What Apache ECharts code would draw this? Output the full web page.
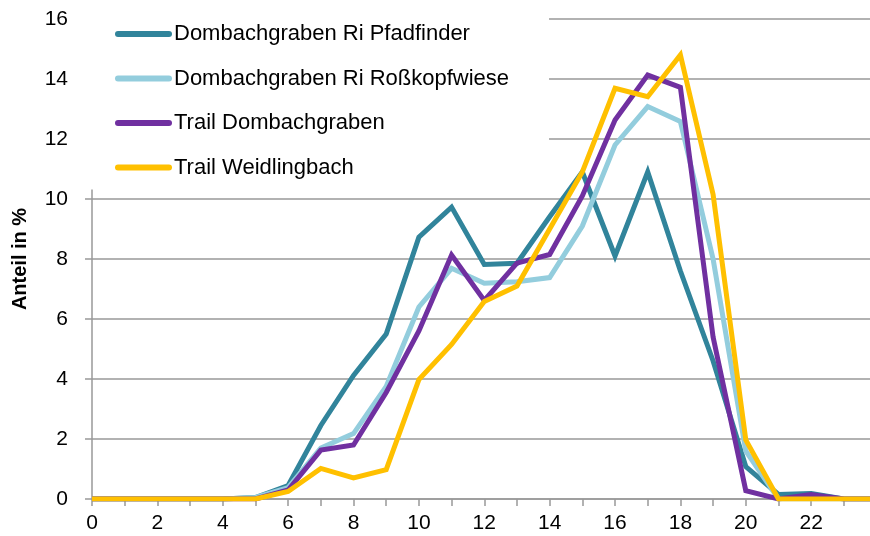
<!DOCTYPE html>
<html>
<head>
<meta charset="utf-8">
<script src="https://cdn.jsdelivr.net/npm/echarts@6/dist/echarts.min.js"></script>
<style>html,body{margin:0;padding:0;background:#fff}#c{width:870px;height:536px}</style>
</head>
<body>
<div id="c"></div>
<script>
var hours = [0,1,2,3,4,5,6,7,8,9,10,11,12,13,14,15,16,17,18,19,20,21,22,23,24];
var seriesNames = ['Dombachgraben Ri Pfadfinder','Dombachgraben Ri Roßkopfwiese','Trail Dombachgraben','Trail Weidlingbach'];
var pfadfinder   = [0,0,0,0,0,0.05,0.45,2.45,4.12,5.5,8.73,9.73,7.82,7.86,9.41,10.9,8.1,10.9,7.6,4.6,1.08,0.15,0.18,0,0];
var rosskopf     = [0,0,0,0,0,0.05,0.38,1.7,2.18,3.75,6.4,7.69,7.19,7.24,7.38,9.1,11.8,13.08,12.58,8.0,1.6,0,0,0,0];
var trailDomb    = [0,0,0,0,0,0,0.3,1.63,1.8,3.55,5.6,8.13,6.62,7.86,8.15,10.1,12.63,14.13,13.72,5.4,0.28,0,0.15,0,0];
var trailWeid    = [0,0,0,0,0,0,0.25,1.02,0.7,0.98,3.98,5.15,6.58,7.1,9.0,10.9,13.69,13.41,14.8,10.15,1.97,0,0,0,0];
var yTicks = [0,2,4,6,8,10,12,14,16];
var colors = ['#31849B','#93CDDD','#7030A0','#FFC000'];
var allData = [pfadfinder, rosskopf, trailDomb, trailWeid];

function pairs(arr){ return arr.map(function(v,i){ return [hours[i], v]; }); }

var chart = echarts.init(document.getElementById('c'), null, {renderer:'canvas'});
var font = '"Liberation Sans", Arial, sans-serif';
var option = {
  animation: false,
  backgroundColor: '#fff',
  grid: {left: 92, right: 0, top: 19, bottom: 37, containLabel: false},
  legend: {
    orient: 'vertical',
    left: 84, top: 0,
    padding: [23, 40, 11, 31],
    backgroundColor: '#fff',
    itemWidth: 57, itemHeight: 6,
    itemGap: 22.5,
    icon: 'path://M3,0 H54 A3,3 0 0 1 54,6 H3 A3,3 0 0 1 3,0 Z',
    textStyle: {fontFamily: font, fontSize: 22, color: '#000', lineHeight: 20, padding: [0,0,0,-3]},
    data: seriesNames
  },
  xAxis: {
    type: 'value', min: 0, max: 23.8, interval: 1,
    axisLine: {show: true, lineStyle: {color: '#999', width: 1.5}},
    axisTick: {show: true, length: 7, lineStyle: {color: '#999', width: 1.5}},
    axisLabel: {
      margin: 14, fontFamily: font, fontSize: 21, color: '#000',
      showMaxLabel: false,
      formatter: function(v){ return (Math.abs(v - Math.round(v)) < 1e-6 && Math.round(v) % 2 === 0) ? String(Math.round(v)) : ''; }
    },
    splitLine: {show: false}
  },
  yAxis: {
    type: 'value', min: yTicks[0], max: yTicks[yTicks.length-1], interval: 2,
    name: 'Anteil in %', nameLocation: 'middle', nameGap: 62,
    nameTextStyle: {fontFamily: font, fontSize: 20, fontWeight: 'bold', color: '#000'},
    axisLine: {show: true, lineStyle: {color: '#999', width: 1.5}},
    axisTick: {show: true, length: 7, lineStyle: {color: '#999', width: 1.5}},
    axisLabel: {margin: 24, fontFamily: font, fontSize: 21, color: '#000'},
    splitLine: {show: true, lineStyle: {color: '#999', width: 1.5}}
  },
  series: seriesNames.map(function(n, i){
    return {
      name: n, type: 'line', data: pairs(allData[i]),
      showSymbol: false, symbol: 'none', clip: true,
      lineStyle: {color: colors[i], width: 5, join: 'miter'},
      itemStyle: {color: colors[i]},
      z: 2 + i
    };
  })
};
chart.setOption(option);
</script>
</body>
</html>
